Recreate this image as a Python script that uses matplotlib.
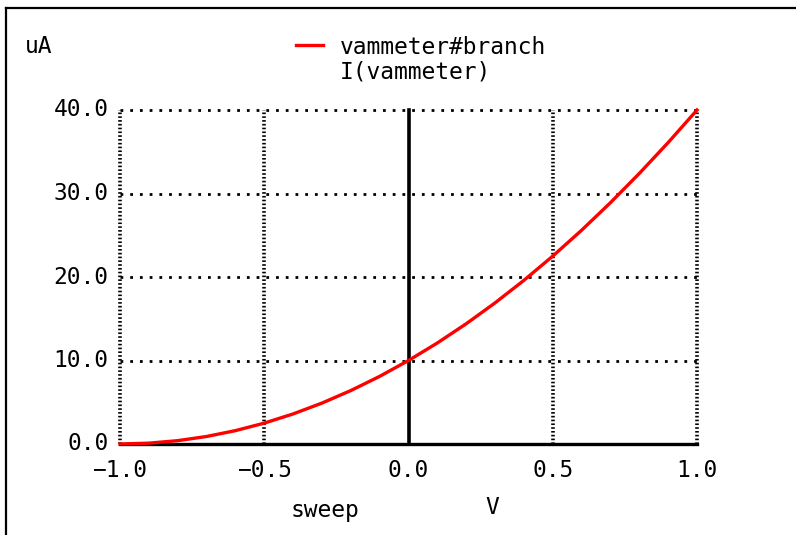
import numpy as np
import matplotlib.pyplot as plt

# sweep voltage (V) and branch current (uA)
sweep = [-1.0, -0.9, -0.8, -0.7, -0.6, -0.5, -0.4, -0.3, -0.2, -0.1, 0.0,
         0.1, 0.2, 0.3, 0.4, 0.5, 0.6, 0.7, 0.8, 0.9, 1.0]
current = [0.0, 0.1, 0.4, 0.9, 1.6, 2.5, 3.6, 4.9, 6.4, 8.1, 10.0,
           12.1, 14.4, 16.9, 19.6, 22.5, 25.6, 28.9, 32.4, 36.1, 40.0]

xticks = [-1.0, -0.5, 0.0, 0.5, 1.0]
yticks = [0.0, 10.0, 20.0, 30.0, 40.0]

plt.rcParams['font.family'] = ['DejaVu Sans Mono']
fs = 16.5

fig = plt.figure(figsize=(7.96, 5.35), dpi=100)
ax = fig.add_axes([120/796, 1-444/535, (697-120)/796, (444-110)/535])

# dotted grid
for x in xticks:
    if x != 0.0:
        ax.plot([x, x], [0, 40], color='black', lw=2.6, ls=(0, (0.45, 0.6)),
                zorder=1, clip_on=False)
for y in yticks[1:]:
    ax.plot([-1, 1], [y, y], color='black', lw=2, ls=(0, (1, 2.5)),
            zorder=1, clip_on=False)

# axes lines
ax.plot([0, 0], [0, 40], color='black', lw=2.6, zorder=2, clip_on=False)
ax.plot([-1, 1], [0, 0], color='black', lw=2.4, zorder=2, clip_on=False)

ax.plot(sweep, current, color='red', lw=2.4, zorder=3, clip_on=False)

ax.set_xlim(-1, 1)
ax.set_ylim(0, 40)
ax.axis('off')

for x in xticks:
    ax.text(x, -3.2, ('%.1f' % x).replace('-', '\u2212'), ha='center', va='center', fontsize=fs)
for y in yticks:
    ax.text(-1.04, y, '%.1f' % y, ha='right', va='center', fontsize=fs)

fig.text(25/796, 1-47/535, 'uA', ha='left', va='center', fontsize=fs)
fig.add_artist(plt.Line2D([296/796, 323/796], [1-45/535, 1-45/535], color='red', lw=2.4))
fig.text(340/796, 1-48/535, 'vammeter#branch', ha='left', va='center', fontsize=fs)
fig.text(340/796, 1-72/535, 'I(vammeter)', ha='left', va='center', fontsize=fs)
fig.text(325/796, 1-510/535, 'sweep', ha='center', va='center', fontsize=fs)
fig.text(492/796, 1-507/535, 'V', ha='center', va='center', fontsize=fs)

# screenshot border (top and left)
fig.add_artist(plt.Line2D([6/796, 1], [1-8/535, 1-8/535], color='black', lw=1.6))
fig.add_artist(plt.Line2D([6/796, 6/796], [0, 1-8/535], color='black', lw=1.6))

fig.savefig('out.png', dpi=100)
